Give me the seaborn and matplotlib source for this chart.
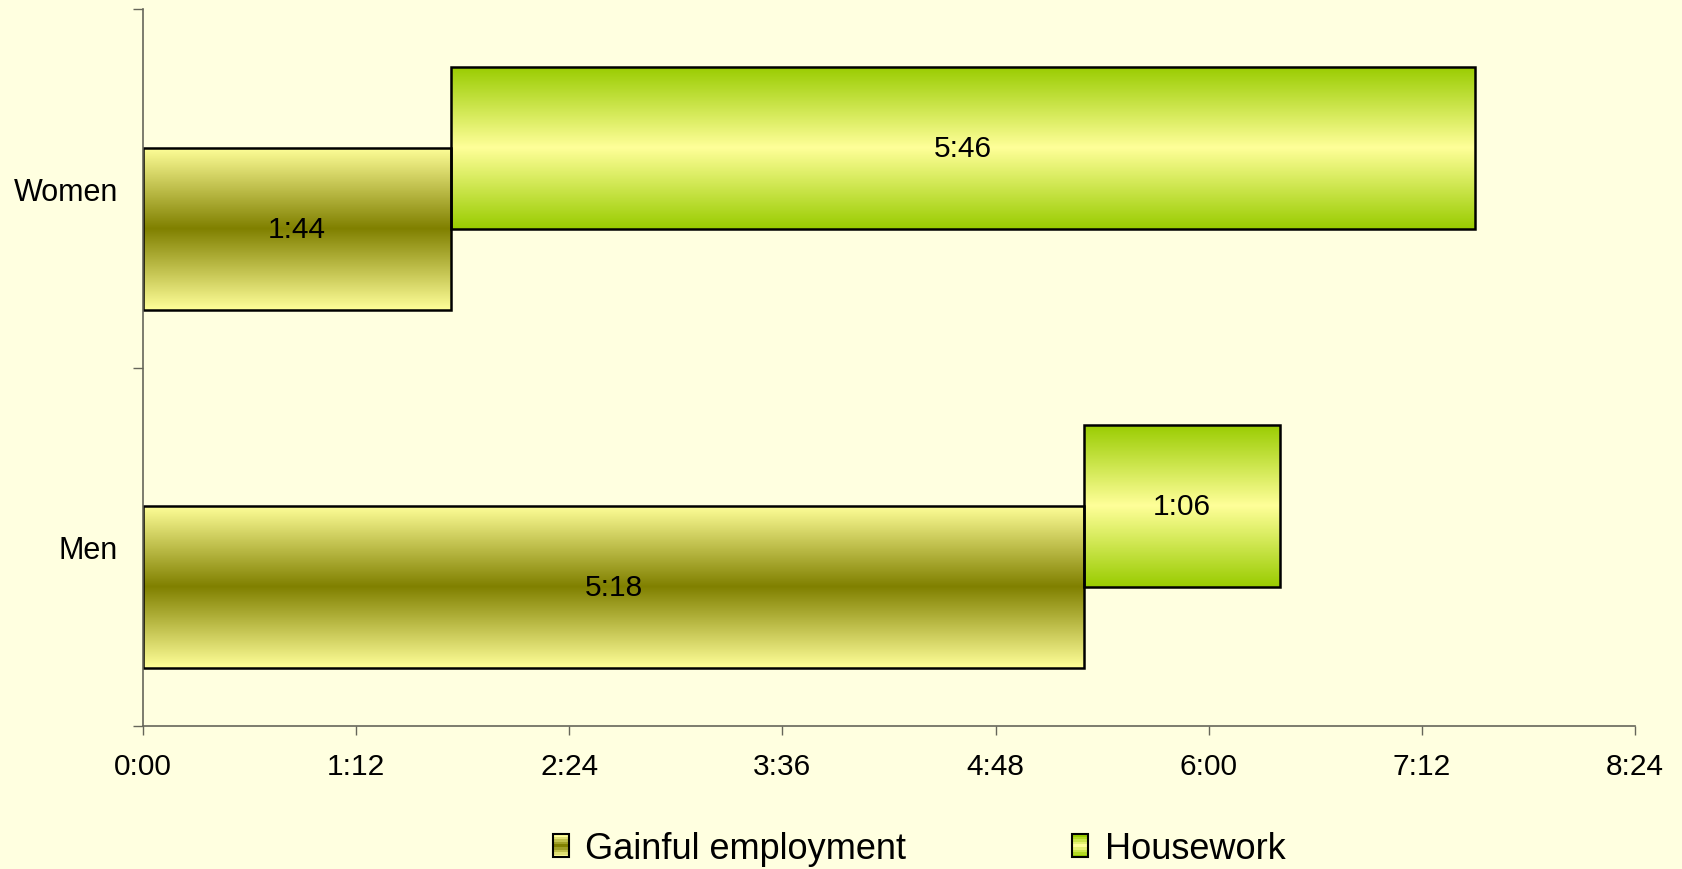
import numpy as np
import pandas as pd
import matplotlib
matplotlib.use('Agg')
import matplotlib.pyplot as plt
import seaborn as sns
from matplotlib.colors import LinearSegmentedColormap
from matplotlib.legend_handler import HandlerBase
from matplotlib.patches import Patch, Rectangle

# Data (minutes per day)
GROUPS = ['Women', 'Men']
SERIES = ['Gainful employment', 'Housework']
EMPLOYMENT = [104, 318]
HOUSEWORK = [346, 66]
X_TICKS = [0, 72, 144, 216, 288, 360, 432, 504]

BG = '#FFFFE0'
SPINE = '#66665a'
BAR_H = 0.452
SHIFT = 0.113

emp_cmap = LinearSegmentedColormap.from_list('emp', ['#FFFF99', '#808000', '#FFFF99'])
hw_cmap = LinearSegmentedColormap.from_list('hw', ['#99CC00', '#FFFF99', '#99CC00'])
GRAD = np.linspace(0, 1, 256).reshape(-1, 1)


def hm(m):
    m = int(round(m))
    return f"{m // 60}:{m % 60:02d}"


class GradHandler(HandlerBase):
    def __init__(self, cmap):
        super().__init__()
        self.cmap = cmap

    def create_artists(self, legend, orig_handle, xdescent, ydescent,
                       width, height, fontsize, trans):
        n = 9
        arts = []
        for i in range(n):
            arts.append(Rectangle((-xdescent, -ydescent + height * i / n), width, height / n,
                                  facecolor=self.cmap(i / (n - 1)), edgecolor='none',
                                  transform=trans))
        arts.append(Rectangle((-xdescent, -ydescent), width, height, facecolor='none',
                              edgecolor='black', lw=1.5, transform=trans))
        return arts


sns.set_theme(style='ticks')
plt.rcParams['font.family'] = ['Liberation Sans', 'DejaVu Sans']

fig = plt.figure(figsize=(16.83, 8.70), dpi=100, facecolor=BG)
ax = fig.add_axes([143 / 1683, 1 - 727 / 870, (1635 - 143) / 1683, (727 - 10) / 870])
ax.set_facecolor(BG)

df_emp = pd.DataFrame({'group': GROUPS, 'minutes': EMPLOYMENT})
df_hw = pd.DataFrame({'group': GROUPS, 'minutes': HOUSEWORK})

sns.barplot(data=df_emp, x='minutes', y='group', order=GROUPS, orient='y',
            width=BAR_H, errorbar=None, color='#808000', edgecolor='black',
            linewidth=1.8, ax=ax)
emp_bars = list(ax.patches)
sns.barplot(data=df_hw, x='minutes', y='group', order=GROUPS, orient='y',
            width=BAR_H, errorbar=None, color='#99CC00', edgecolor='black',
            linewidth=1.8, left=EMPLOYMENT, ax=ax)
hw_bars = list(ax.patches[len(emp_bars):])

# offset the two series vertically, fill with gradients, label
for bars, vals, cmap, dy in [(emp_bars, EMPLOYMENT, emp_cmap, SHIFT),
                             (hw_bars, HOUSEWORK, hw_cmap, -SHIFT)]:
    for p, v in zip(bars, vals):
        p.set_y(p.get_y() + dy)
        p.set_facecolor('none')
        p.set_zorder(2)
        x0, y0, w, h = p.get_x(), p.get_y(), p.get_width(), p.get_height()
        im = ax.imshow(GRAD, cmap=cmap, extent=[x0, x0 + w, y0, y0 + h],
                       aspect='auto', interpolation='bicubic', zorder=1.5)
        im.set_clip_path(p)
        ax.text(x0 + w / 2, y0 + h / 2, hm(v), ha='center', va='center',
                fontsize=21.5, color='black', zorder=3)

ax.set_xlim(0, 504)
ax.set_ylim(1.5, -0.5)
ax.set_xticks(X_TICKS, labels=[hm(t) for t in X_TICKS])
ax.set_yticks([-0.5, 0.5, 1.5], labels=['', '', ''])
ax.set_yticks([0, 1], labels=GROUPS, minor=True)
ax.set_xlabel('')
ax.set_ylabel('')

ax.tick_params(axis='x', which='major', length=6.5, width=1, color=SPINE,
               pad=12, labelsize=21.5, labelcolor='black')
ax.tick_params(axis='y', which='major', length=7, width=1, color=SPINE, left=True)
ax.tick_params(axis='y', which='minor', length=0, pad=18, labelsize=22,
               labelcolor='black', left=True)

for s in ['top', 'right']:
    ax.spines[s].set_visible(False)
for s in ['left', 'bottom']:
    ax.spines[s].set_color(SPINE)
    ax.spines[s].set_linewidth(1.2)

handles = [Patch(label=SERIES[0]), Patch(label=SERIES[1])]
fig.legend(handles, SERIES,
           handler_map={handles[0]: GradHandler(emp_cmap), handles[1]: GradHandler(hw_cmap)},
           loc='center', bbox_to_anchor=(919 / 1683, 1 - 850 / 870), ncol=2,
           frameon=False, fontsize=26, labelcolor='black', handlelength=0.45,
           handleheight=0.62, handletextpad=0.45, columnspacing=4.6)

fig.savefig('out.png', dpi=100, facecolor=BG)
